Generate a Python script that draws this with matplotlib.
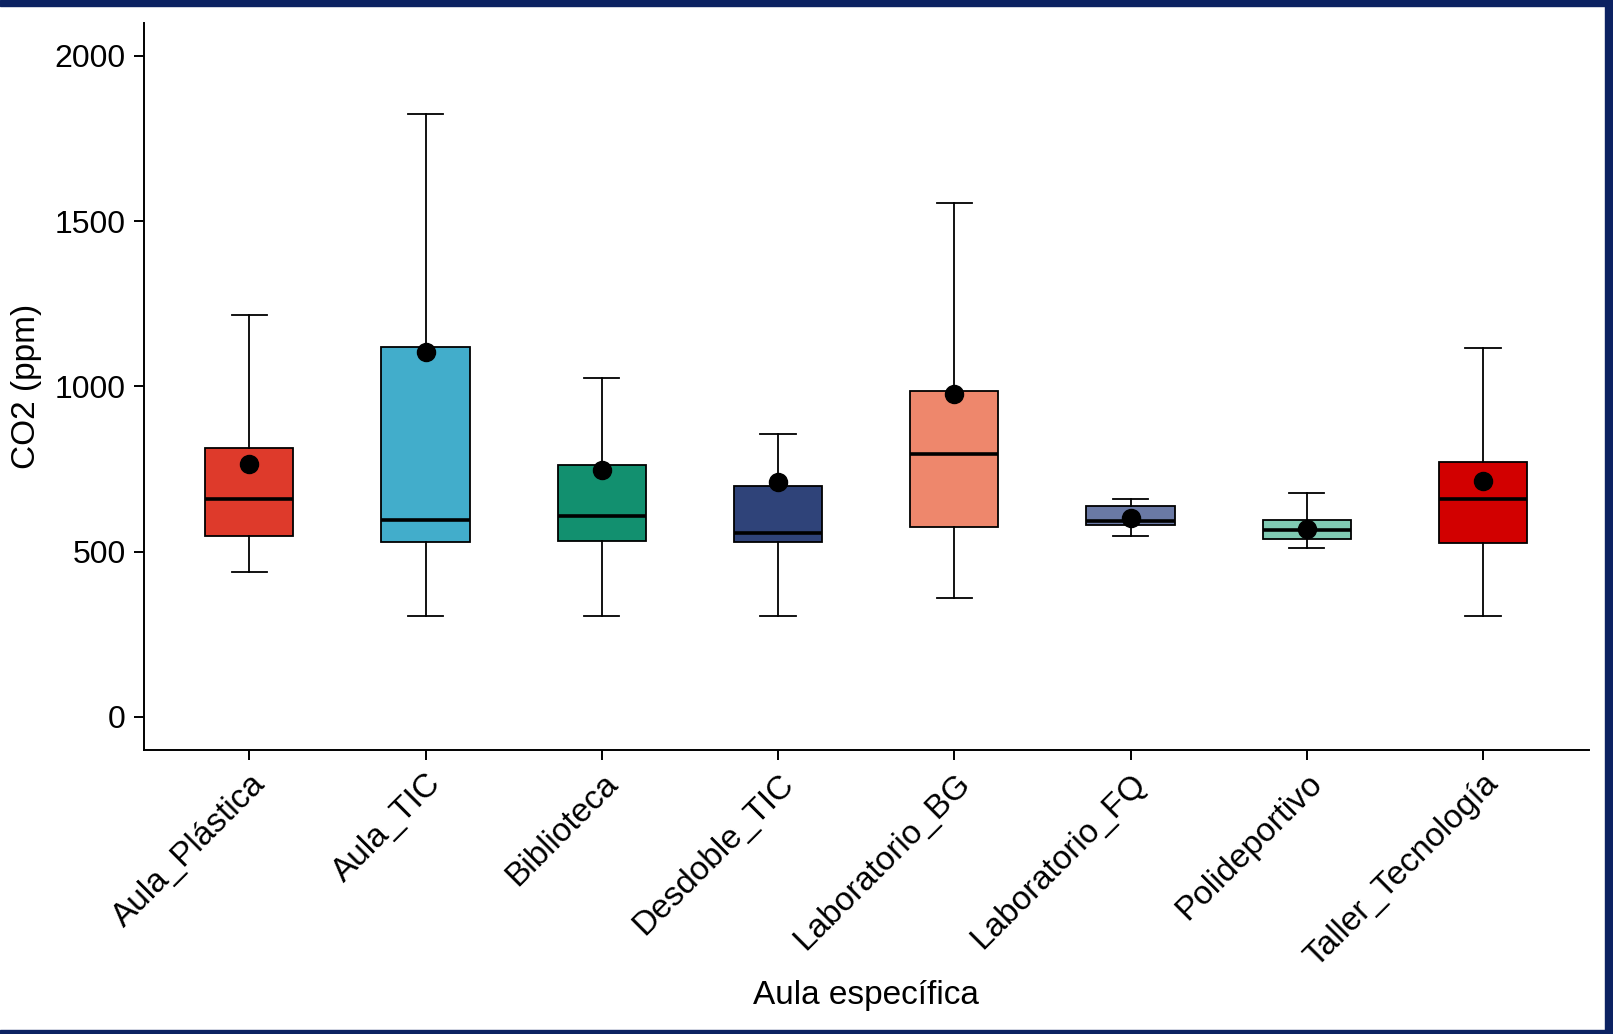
import matplotlib

matplotlib.use("Agg")
import matplotlib.pyplot as plt
from matplotlib.patches import Rectangle

plt.rcParams["font.family"] = ["Liberation Sans", "DejaVu Sans"]

aulas = ["Aula_Plástica", "Aula_TIC", "Biblioteca", "Desdoble_TIC",
         "Laboratorio_BG", "Laboratorio_FQ", "Polideportivo", "Taller_Tecnología"]
whisker_low = [438, 305, 305, 305, 361, 546, 510, 305]
q1 = [546, 530, 532, 529, 575, 580, 538, 526]
median = [659, 597, 607, 557, 796, 594, 566, 659]
q3 = [814, 1118, 762, 700, 986, 637, 597, 771]
whisker_high = [1215, 1823, 1026, 855, 1555, 659, 677, 1117]
mean = [765, 1105, 747, 712, 977, 602, 569, 715]
colors = ["#DE3A2B", "#42ADCB", "#12906F", "#2F4379",
          "#EE876C", "#6A79A5", "#80CAB3", "#D20000"]

fig = plt.figure(figsize=(16.13, 10.34), dpi=100)
ax = fig.add_axes([0.089, 0.2747, 0.896, 0.7033])

stats = []
for i, name in enumerate(aulas):
    stats.append({
        "label": name, "whislo": whisker_low[i], "q1": q1[i], "med": median[i],
        "q3": q3[i], "whishi": whisker_high[i], "mean": mean[i], "fliers": [],
    })

positions = range(1, len(aulas) + 1)
parts = ax.bxp(
    stats, positions=positions, widths=0.5, patch_artist=True, showmeans=True,
    boxprops=dict(edgecolor="black", linewidth=1.3),
    medianprops=dict(color="black", linewidth=2.6),
    whiskerprops=dict(color="black", linewidth=1.3),
    capprops=dict(color="black", linewidth=1.3),
    meanprops=dict(marker="o", markerfacecolor="black", markeredgecolor="black", markersize=13),
    capwidths=0.2,
)
for box, color in zip(parts["boxes"], colors):
    box.set_facecolor(color)

ax.set_xlim(0.4, 8.6)
ax.set_ylim(-100, 2100)
ax.set_yticks([0, 500, 1000, 1500, 2000])
ax.set_xticks(list(positions))
ax.set_xticklabels(aulas, rotation=45, ha="right", rotation_mode="anchor")
ax.tick_params(length=7, width=1.4, color="black", labelcolor="black", pad=6)
ax.tick_params(axis="y", labelsize=23)
ax.tick_params(axis="x", labelsize=24)

for side in ("top", "right"):
    ax.spines[side].set_visible(False)
for side in ("left", "bottom"):
    ax.spines[side].set_linewidth(1.4)

ax.set_xlabel("Aula específica", fontsize=24, va="center")
ax.xaxis.set_label_coords(0.5, -0.338)
ax.set_ylabel("CO2 (ppm)", fontsize=24, labelpad=9)

# navy frame on top, right and bottom edges
navy = "#0C2262"
W, H = 1613, 1034
fig.patches.append(Rectangle((0, 1 - 6 / H), 1, 6 / H, transform=fig.transFigure, color=navy, zorder=10))
fig.patches.append(Rectangle((1 - 8 / W, 0), 8 / W, 1, transform=fig.transFigure, color=navy, zorder=10))
fig.patches.append(Rectangle((0, 0), 1, 4 / H, transform=fig.transFigure, color=navy, zorder=10))

fig.savefig("out.png", dpi=100)
